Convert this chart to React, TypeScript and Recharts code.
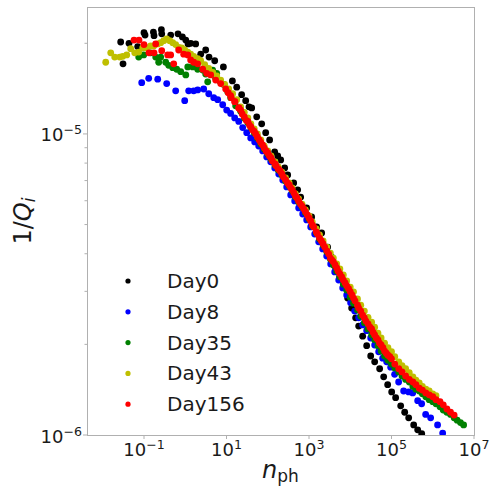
import { ScatterChart, Scatter, XAxis, YAxis, Legend } from "recharts";

type Pt = [number, number];

// values (n_ph, 1/Qi)
const day0: Pt[] = [
  [0.0272, 2.02e-5], [0.031, 1.71e-5], [0.0433, 2.0e-5], [0.0703, 1.95e-5], [0.1, 2.17e-5],
  [0.106, 2.13e-5], [0.169, 2.18e-5], [0.175, 2.12e-5], [0.264, 2.22e-5], [0.269, 2.15e-5],
  [0.444, 2.13e-5], [0.667, 2.15e-5], [0.853, 2.1e-5], [1.03, 2.05e-5], [1.17, 1.99e-5],
  [1.36, 2.0e-5], [1.79, 1.99e-5], [2.37, 1.84e-5], [3.13, 1.9e-5], [3.77, 1.8e-5],
  [5.18, 1.75e-5], [8.41, 1.67e-5], [13.9, 1.5e-5], [17.7, 1.43e-5], [23.3, 1.35e-5],
  [29.2, 1.29e-5], [35.1, 1.23e-5], [40.8, 1.22e-5], [54, 1.14e-5], [71.3, 1.08e-5],
  [89.1, 1.01e-5], [111, 9.55e-6], [147, 8.71e-6], [174, 8.45e-6], [206, 8.2e-6],
  [257, 7.71e-6], [304, 7.31e-6], [425, 6.87e-6], [531, 6.52e-6], [628, 6.17e-6],
  [877, 5.68e-6], [1159, 5.3e-6], [1531, 4.91e-6], [2027, 4.69e-6], [2831, 4.21e-6],
  [3540, 3.9e-6], [4426, 3.6e-6], [5534, 3.35e-6], [6918, 3.1e-6], [8650, 2.85e-6],
  [1.08e4, 2.64e-6], [1.35e4, 2.45e-6], [1.6e4, 2.3e-6], [2.0e4, 2.13e-6], [2.5e4, 1.98e-6],
  [3.13e4, 1.83e-6], [3.91e4, 1.75e-6], [5.16e4, 1.66e-6], [6.46e4, 1.56e-6], [8.07e4, 1.47e-6],
  [1.01e5, 1.39e-6], [1.26e5, 1.33e-6], [1.67e5, 1.25e-6], [2.09e5, 1.19e-6], [2.61e5, 1.14e-6],
  [3.45e5, 1.08e-6], [4.31e5, 1.04e-6], [5.4e5, 1.01e-6],
];

const day8: Pt[] = [
  [0.088, 1.48e-5], [0.13, 1.53e-5], [0.215, 1.52e-5], [0.355, 1.47e-5], [0.586, 1.39e-5],
  [0.97, 1.29e-5], [1.21, 1.39e-5], [1.6, 1.39e-5], [2.0, 1.4e-5], [2.8, 1.41e-5],
  [3.71, 1.36e-5], [4.9, 1.32e-5], [6.12, 1.3e-5], [8.09, 1.25e-5], [10.1, 1.2e-5],
  [12.6, 1.17e-5], [15.8, 1.13e-5], [19.8, 1.1e-5], [24.7, 1.05e-5], [30.9, 1.01e-5],
  [38.6, 9.7e-6], [48.3, 9.41e-6], [60.4, 9.12e-6], [75.5, 8.78e-6], [94.4, 8.39e-6],
  [118, 8.08e-6], [148, 7.71e-6], [185, 7.36e-6], [231, 7.03e-6], [288, 6.67e-6],
  [360, 6.27e-6], [450, 5.99e-6], [562, 5.68e-6], [703, 5.42e-6], [879, 5.18e-6],
  [1099, 4.91e-6], [1374, 4.65e-6], [1718, 4.38e-6], [2148, 4.15e-6], [2685, 3.93e-6],
  [3357, 3.7e-6], [4197, 3.48e-6], [5248, 3.27e-6], [6561, 3.08e-6], [8203, 2.92e-6],
  [1.02e4, 2.75e-6], [1.28e4, 2.58e-6], [1.6e4, 2.45e-6], [2.0e4, 2.32e-6], [2.5e4, 2.22e-6],
  [3.13e4, 2.1e-6], [3.91e4, 1.99e-6], [4.89e4, 1.89e-6], [6.11e4, 1.8e-6], [7.64e4, 1.75e-6],
  [9.55e4, 1.68e-6], [1.19e5, 1.59e-6], [1.49e5, 1.5e-6], [1.97e5, 1.4e-6], [2.61e5, 1.39e-6],
  [3.26e5, 1.38e-6], [4.31e5, 1.3e-6], [5.38e5, 1.27e-6], [6.73e5, 1.17e-6], [8.89e5, 1.14e-6],
  [1.31e6, 1.08e-6], [1.74e6, 1.015e-6],
];

const day35: Pt[] = [
  [0.0744, 1.8e-5], [0.0984, 1.83e-5], [0.145, 1.86e-5], [0.192, 1.8e-5], [0.227, 1.73e-5],
  [0.254, 1.8e-5], [0.336, 1.73e-5], [0.397, 1.69e-5], [0.497, 1.66e-5], [0.621, 1.64e-5],
  [0.776, 1.61e-5], [1.03, 1.57e-5], [1.15, 1.67e-5], [1.52, 1.67e-5], [2.0, 1.64e-5],
  [2.65, 1.63e-5], [3.13, 1.58e-5], [3.5, 1.49e-5], [4.62, 1.63e-5], [5.47, 1.53e-5],
  [5.78, 1.59e-5], [6.84, 1.5e-5], [8.55, 1.46e-5], [10.7, 1.38e-5], [12.6, 1.32e-5],
  [16.7, 1.24e-5], [22, 1.19e-5], [27, 1.13e-5], [33, 1.09e-5], [39, 1.05e-5],
  [47, 1.01e-5], [56, 9.7e-6], [68, 9.26e-6], [82, 8.92e-6], [100, 8.58e-6],
  [120, 8.26e-6], [150, 7.89e-6], [180, 7.59e-6], [220, 7.31e-6], [270, 6.98e-6],
  [330, 6.72e-6], [390, 6.47e-6], [470, 6.17e-6], [560, 5.94e-6], [680, 5.72e-6],
  [820, 5.47e-6], [1000, 5.22e-6], [1200, 4.95e-6], [1500, 4.7e-6], [1800, 4.48e-6],
  [2200, 4.28e-6], [2700, 4.06e-6], [3300, 3.84e-6], [3900, 3.67e-6], [4700, 3.5e-6],
  [5600, 3.35e-6], [6800, 3.17e-6], [8200, 3.03e-6], [1e4, 2.87e-6], [1.2e4, 2.74e-6],
  [1.5e4, 2.6e-6], [1.8e4, 2.48e-6], [2.2e4, 2.36e-6], [2.7e4, 2.25e-6], [3.3e4, 2.15e-6],
  [3.9e4, 2.07e-6], [4.7e4, 1.98e-6], [5.6e4, 1.9e-6], [6.8e4, 1.83e-6], [8.2e4, 1.77e-6],
  [1e5, 1.72e-6], [1.2e5, 1.67e-6], [1.5e5, 1.62e-6], [1.8e5, 1.57e-6], [2.2e5, 1.53e-6],
  [2.7e5, 1.5e-6], [3.3e5, 1.45e-6], [3.9e5, 1.42e-6], [4.7e5, 1.4e-6], [5.6e5, 1.37e-6],
  [6.8e5, 1.34e-6], [8.2e5, 1.31e-6], [1e6, 1.29e-6], [1.2e6, 1.27e-6], [1.5e6, 1.24e-6],
  [1.8e6, 1.21e-6], [2.2e6, 1.19e-6], [2.7e6, 1.17e-6], [3.3e6, 1.14e-6], [3.9e6, 1.12e-6],
  [4.7e6, 1.1e-6], [5.6e6, 1.08e-6],
];

const day43: Pt[] = [
  [0.0118, 1.73e-5], [0.0156, 1.86e-5], [0.0195, 1.8e-5], [0.0258, 1.8e-5], [0.0305, 1.81e-5],
  [0.0381, 1.83e-5], [0.0476, 1.92e-5], [0.0596, 1.86e-5], [0.0744, 1.87e-5], [0.093, 1.93e-5],
  [0.116, 1.93e-5], [0.145, 1.96e-5], [0.172, 1.96e-5], [0.215, 1.99e-5], [0.254, 2.01e-5],
  [0.301, 2.04e-5], [0.355, 2.07e-5], [0.42, 2.04e-5], [0.497, 2.01e-5], [0.586, 1.98e-5],
  [0.693, 1.94e-5], [0.82, 1.93e-5], [0.97, 1.9e-5], [1.15, 1.87e-5], [1.35, 1.84e-5],
  [1.6, 1.81e-5], [2.0, 1.78e-5], [2.37, 1.75e-5], [2.96, 1.7e-5], [3.71, 1.65e-5],
  [4.63, 1.6e-5], [5.79, 1.56e-5], [7.23, 1.51e-5], [9.04, 1.46e-5], [11.3, 1.41e-5],
  [14.1, 1.36e-5], [17.7, 1.3e-5], [22, 1.23e-5], [27, 1.18e-5], [33, 1.13e-5],
  [39, 1.08e-5], [47, 1.04e-5], [56, 1.0e-5], [68, 9.55e-6], [82, 9.12e-6],
  [100, 8.78e-6], [120, 8.45e-6], [150, 8.07e-6], [180, 7.77e-6], [220, 7.47e-6],
  [270, 7.14e-6], [330, 6.87e-6], [390, 6.62e-6], [470, 6.32e-6], [560, 6.08e-6],
  [680, 5.85e-6], [820, 5.59e-6], [1000, 5.34e-6], [1200, 5.1e-6], [1500, 4.84e-6],
  [1800, 4.62e-6], [2200, 4.41e-6], [2700, 4.21e-6], [3300, 4.02e-6], [3900, 3.87e-6],
  [4700, 3.7e-6], [5600, 3.56e-6], [6800, 3.4e-6], [8200, 3.25e-6], [1e4, 3.1e-6],
  [1.2e4, 2.99e-6], [1.5e4, 2.83e-6], [1.8e4, 2.7e-6], [2.2e4, 2.58e-6], [2.7e4, 2.46e-6],
  [3.3e4, 2.37e-6], [3.9e4, 2.28e-6], [4.7e4, 2.18e-6], [5.6e4, 2.1e-6], [6.8e4, 2.02e-6],
  [8.2e4, 1.95e-6], [1e5, 1.89e-6], [1.2e5, 1.82e-6], [1.5e5, 1.75e-6], [1.8e5, 1.7e-6],
  [2.2e5, 1.66e-6], [2.7e5, 1.61e-6], [3.3e5, 1.56e-6], [3.9e5, 1.52e-6], [4.7e5, 1.49e-6],
  [5.6e5, 1.45e-6], [6.8e5, 1.42e-6], [8.2e5, 1.4e-6], [1e6, 1.37e-6], [1.2e6, 1.35e-6],
];

const day156: Pt[] = [
  [0.0573, 2.05e-5], [0.0757, 2.05e-5], [0.1, 1.98e-5], [0.132, 1.86e-5], [0.175, 1.86e-5],
  [0.192, 1.99e-5], [0.269, 1.89e-5], [0.375, 1.83e-5], [0.443, 1.83e-5], [0.525, 1.71e-5],
  [0.693, 1.9e-5], [0.916, 1.84e-5], [1.15, 1.83e-5], [1.35, 1.76e-5], [1.6, 1.73e-5],
  [2.0, 1.71e-5], [2.65, 1.64e-5], [3.31, 1.59e-5], [4.14, 1.57e-5], [5.47, 1.51e-5],
  [7.23, 1.47e-5], [9.55, 1.41e-5], [11, 1.37e-5], [12.6, 1.34e-5], [13, 1.32e-5],
  [15.8, 1.28e-5], [16, 1.28e-5], [19.8, 1.22e-5], [20, 1.22e-5], [22, 1.2e-5],
  [24, 1.165e-5], [27, 1.14e-5], [30, 1.11e-5], [33, 1.1e-5], [36, 1.07e-5],
  [39, 1.055e-5], [43, 1.03e-5], [47, 1.02e-5], [51, 1.0e-5], [56, 9.77e-6],
  [62, 9.55e-6], [68, 9.37e-6], [75, 9.19e-6], [82, 8.99e-6], [91, 8.78e-6],
  [100, 8.65e-6], [110, 8.45e-6], [120, 8.33e-6], [130, 8.13e-6], [150, 7.95e-6],
  [160, 7.83e-6], [180, 7.65e-6], [200, 7.53e-6], [220, 7.37e-6], [240, 7.19e-6],
  [270, 7.04e-6], [300, 6.87e-6], [330, 6.77e-6], [360, 6.62e-6], [390, 6.52e-6],
  [430, 6.37e-6], [470, 6.22e-6], [510, 6.13e-6], [560, 5.99e-6], [620, 5.85e-6],
  [680, 5.76e-6], [750, 5.63e-6], [820, 5.51e-6], [910, 5.38e-6], [1000, 5.26e-6],
  [1100, 5.14e-6], [1200, 4.99e-6], [1300, 4.91e-6], [1500, 4.73e-6], [1600, 4.65e-6],
  [1800, 4.51e-6], [2000, 4.41e-6], [2200, 4.31e-6], [2400, 4.21e-6], [2700, 4.09e-6],
  [3000, 3.99e-6], [3300, 3.87e-6], [3600, 3.81e-6], [3900, 3.76e-6], [4300, 3.67e-6],
  [4700, 3.59e-6], [5100, 3.5e-6], [5600, 3.43e-6], [6200, 3.35e-6], [6800, 3.27e-6],
  [7500, 3.2e-6], [8200, 3.13e-6], [9100, 3.06e-6], [1e4, 2.99e-6], [1.1e4, 2.92e-6],
  [1.2e4, 2.85e-6], [1.3e4, 2.79e-6], [1.5e4, 2.7e-6], [1.6e4, 2.64e-6], [1.8e4, 2.58e-6],
  [2.0e4, 2.5e-6], [2.2e4, 2.45e-6], [2.4e4, 2.39e-6], [2.7e4, 2.34e-6], [3.0e4, 2.28e-6],
  [3.3e4, 2.25e-6], [3.6e4, 2.19e-6], [3.9e4, 2.15e-6], [4.3e4, 2.1e-6], [4.7e4, 2.07e-6],
  [5.1e4, 2.02e-6], [5.6e4, 1.99e-6], [6.2e4, 1.95e-6], [6.8e4, 1.9e-6], [7.5e4, 1.87e-6],
  [8.2e4, 1.84e-6], [9.1e4, 1.82e-6], [1e5, 1.79e-6], [1.2e5, 1.72e-6], [1.5e5, 1.66e-6],
  [1.8e5, 1.62e-6], [2.2e5, 1.57e-6], [2.7e5, 1.53e-6], [3.3e5, 1.5e-6], [3.9e5, 1.47e-6],
  [4.7e5, 1.43e-6], [5.6e5, 1.41e-6], [6.8e5, 1.38e-6], [8.2e5, 1.36e-6], [1e6, 1.34e-6],
  [1.2e6, 1.31e-6], [1.5e6, 1.29e-6], [1.8e6, 1.26e-6], [2.2e6, 1.22e-6], [2.7e6, 1.19e-6],
  [3.3e6, 1.165e-6],
];

const seriesNames = ["Day0", "Day8", "Day35", "Day43", "Day156"];
const seriesColors = ["#000000", "#0000ff", "#008000", "#bfbf00", "#ff0000"];
const seriesData = [day0, day8, day35, day43, day156];

const xTicks = [1e-1, 1e1, 1e3, 1e5, 1e7];
const yTicks = [1e-6, 2e-6, 3e-6, 4e-6, 5e-6, 6e-6, 7e-6, 8e-6, 9e-6, 1e-5, 2e-5];
const yMajor = [1e-6, 1e-5];

const X_DOMAIN = [0.00415, 1e7];
const Y_DOMAIN = [1e-6, 2.64e-5];

// chart geometry
const W = 490;
const H = 489;
const M_TOP = 7;
const M_RIGHT = 16;
const Y_W = 87;
const X_H = 54;
const PLOT_L = Y_W;
const PLOT_R = W - M_RIGHT;
const PLOT_T = M_TOP;
const PLOT_B = H - X_H;

const FONT = "DejaVu Sans";
const AXIS = "#b0b0b0";
const TEXT = "#1a1a1a";

const expLabel = (v: number) => {
  const e = Math.round(Math.log10(v));
  return e < 0 ? "\u2212" + Math.abs(e) : String(e);
};

const XTick = (props: any) => {
  const { x, y, payload } = props;
  return (
    <g>
      <line x1={x} y1={y} x2={x} y2={y + 4} stroke={AXIS} />
      <text x={x} y={y + 21} textAnchor="middle" fontSize={18} fill={TEXT} fontFamily={FONT}>
        <tspan>10</tspan>
        <tspan dy={-7.5} fontSize={12.6}>{expLabel(payload.value)}</tspan>
      </text>
    </g>
  );
};

const YTick = (props: any) => {
  const { x, y, payload } = props;
  const major = yMajor.some((m) => Math.abs(m - payload.value) / m < 1e-6);
  if (!major) return <line x1={x - 2.5} y1={y} x2={x} y2={y} stroke={AXIS} />;
  return (
    <g>
      <line x1={x - 4} y1={y} x2={x} y2={y} stroke={AXIS} />
      <text x={x - 5} y={y + 7.5} textAnchor="end" fontSize={18} fill={TEXT} fontFamily={FONT}>
        <tspan>10</tspan>
        <tspan dy={-7} fontSize={12.6}>{expLabel(payload.value)}</tspan>
      </text>
    </g>
  );
};

// x label, plus the four spines of the frame (half-pixel offsets keep them crisp)
const XLabel = () => (
  <g>
    <rect
      x={PLOT_L + 0.5}
      y={PLOT_T + 0.5}
      width={PLOT_R - PLOT_L}
      height={PLOT_B - PLOT_T}
      fill="none"
      stroke={AXIS}
    />
    <text x={(PLOT_L + PLOT_R) / 2} y={478} textAnchor="middle" fontSize={24} fill={TEXT} fontFamily={FONT}>
      <tspan fontStyle="italic">n</tspan>
      <tspan dy={4} fontSize={17}>ph</tspan>
    </text>
  </g>
);

const YLabel = () => {
  const cy = (PLOT_T + PLOT_B) / 2;
  return (
    <text
      x={31}
      y={cy}
      transform={`rotate(-90, 31, ${cy})`}
      textAnchor="middle"
      fontSize={24}
      fill={TEXT}
      fontFamily={FONT}
    >
      <tspan>1/</tspan>
      <tspan fontStyle="italic">Q</tspan>
      <tspan dy={4} fontSize={17} fontStyle="italic">i</tspan>
    </text>
  );
};

const LegendBox = () => (
  <svg width={140} height={160}>
    {seriesNames.map((name, i) => (
      <g key={name}>
        <circle cx={18} cy={19 + i * 30.8} r={2.6} fill={seriesColors[i]} />
        <text x={57} y={26 + i * 30.8} fontSize={20} fill={TEXT} fontFamily={FONT}>
          {name}
        </text>
      </g>
    ))}
  </svg>
);

const dot = (color: string) => (p: any) => <circle cx={p.cx} cy={p.cy} r={3.4} fill={color} />;

export default function App() {
  return (
    <div style={{ position: "absolute", left: 0, top: 0, background: "#fff" }}>
      <ScatterChart width={W} height={H} margin={{ top: M_TOP, right: M_RIGHT, bottom: 0, left: 0 }}>
        <XAxis
          dataKey="x"
          type="number"
          scale="log"
          domain={X_DOMAIN}
          allowDataOverflow
          ticks={xTicks}
          interval={0}
          tickSize={0}
          tickMargin={0}
          tickLine={false}
          tick={<XTick />}
          height={X_H}
          axisLine={false}
          label={<XLabel />}
        />
        <YAxis
          dataKey="y"
          type="number"
          scale="log"
          domain={Y_DOMAIN}
          allowDataOverflow
          ticks={yTicks}
          interval={0}
          tickSize={0}
          tickMargin={0}
          tickLine={false}
          tick={<YTick />}
          width={Y_W}
          axisLine={false}
          label={<YLabel />}
        />
        {seriesData.map((d, i) => (
          <Scatter
            key={seriesNames[i]}
            name={seriesNames[i]}
            data={d.map(([x, y]) => ({ x, y }))}
            fill={seriesColors[i]}
            shape={dot(seriesColors[i])}
            isAnimationActive={false}
          />
        ))}
        <Legend
          layout="vertical"
          align="center"
          verticalAlign="middle"
          wrapperStyle={{ left: 110, top: 262, width: 140, height: 160 }}
          content={<LegendBox />}
        />
      </ScatterChart>
    </div>
  );
}
